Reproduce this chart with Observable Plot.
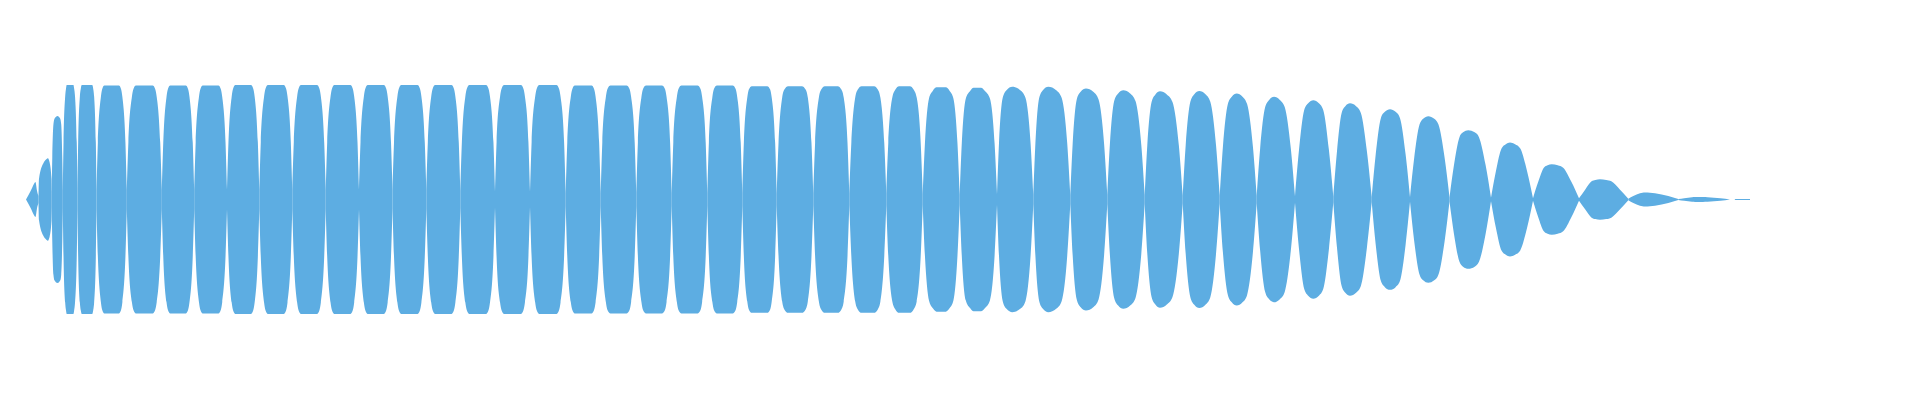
<!DOCTYPE html>
<html>
<head>
<meta charset="utf-8">
<script src="https://cdn.jsdelivr.net/npm/d3@7"></script>
<script src="https://cdn.jsdelivr.net/npm/@observablehq/plot@0.6"></script>
<style>
  html, body { margin: 0; padding: 0; background: #ffffff; }
  #chart svg { display: block; }
</style>
</head>
<body>
<div id="chart"></div>
<script>
// Lobe boundaries (waists) along the time axis
const edges = [26, 38.5, 51.7, 62.8, 77.5, 96.5, 126.8, 161.8, 194.2, 227, 259.3, 292.3, 325.7, 359, 392.5, 426.3, 460.3, 495, 530, 565.7, 600.7, 636.3, 671.7, 707.3, 742.3, 776.7, 813.3, 849.3, 886.3, 922.7, 959.7, 997, 1033.3, 1070.3, 1107.3, 1144.7, 1182.7, 1219.7, 1256.7, 1295, 1333.3, 1371.7, 1410, 1449.5, 1491, 1533, 1579, 1628.3, 1678.3, 1730, 1739, 1750];
// Envelope amplitude at each waist (fraction of full scale)
const waists = [0, 0.03, 0.07, 0.08, 0.085, 0.085, 0.085, 0.085, 0.085, 0.085, 0.085, 0.085, 0.085, 0.085, 0.08, 0.08, 0.075, 0.07, 0.065, 0.06, 0.058, 0.058, 0.056, 0.055, 0.055, 0.052, 0.05, 0.05, 0.05, 0.048, 0.046, 0.045, 0.042, 0.04, 0.04, 0.038, 0.036, 0.034, 0.032, 0.028, 0.025, 0.022, 0.02, 0.018, 0.015, 0.012, 0.01, 0.006, 0.004, 0, 0.004, 0.004];
// Peak amplitude of each lobe
const peaks = [0.153, 0.36, 0.73, 1.0, 1.0, 0.995, 0.995, 0.995, 0.995, 1.0, 1.0, 1.0, 1.0, 1.0, 1.0, 1.0, 1.0, 1.0, 1.0, 0.995, 0.995, 0.995, 0.995, 0.995, 0.99, 0.99, 0.99, 0.99, 0.99, 0.98, 0.977, 0.984, 0.984, 0.97, 0.955, 0.946, 0.948, 0.926, 0.897, 0.867, 0.84, 0.789, 0.728, 0.605, 0.498, 0.308, 0.176, 0.061, 0.022, 0, 0.005];
// Position of each lobe's peak
const peakPos = [35.5, 48, 57.5, 70, 87, 111.6, 144.3, 178, 210.6, 243.2, 275.8, 309, 342.4, 375.8, 409.4, 443.3, 477.7, 512.5, 547.9, 583.2, 618.5, 654, 689.5, 724.8, 759.5, 795, 831.3, 867.8, 904.5, 941.2, 977, 1012.3, 1048.3, 1086, 1123.3, 1160, 1199.3, 1236.7, 1274, 1313.3, 1350, 1390, 1428.3, 1468.3, 1510, 1551.7, 1600, 1645, 1698, 1734.5, 1744.5];
// Fraction of the way from edge to peak where each lobe reaches 50% of its peak
const rise50 = [0.5, 0.05, 0.1, 0.1, 0.07,
  0.09, 0.09, 0.09, 0.09, 0.09, 0.09, 0.09, 0.09, 0.09, 0.09,
  0.09, 0.09, 0.09, 0.09, 0.09, 0.09, 0.09, 0.09, 0.09, 0.09,
  0.1, 0.1, 0.11, 0.11, 0.12, 0.12,
  0.13, 0.14, 0.15, 0.16, 0.17, 0.18, 0.19,
  0.2, 0.22, 0.22, 0.22, 0.23, 0.24,
  0.26, 0.28, 0.3,
  0.3, 0.3, 0.3, 0.3];
// ... where it reaches 90% of its peak
const rise90 = [0.85, 0.55, 0.3, 0.33, 0.25,
  0.29, 0.29, 0.29, 0.29, 0.29, 0.29, 0.29, 0.29, 0.29, 0.29,
  0.29, 0.29, 0.29, 0.29, 0.29, 0.29, 0.29, 0.29, 0.29, 0.29,
  0.3, 0.31, 0.32, 0.33, 0.34, 0.35,
  0.37, 0.39, 0.41, 0.43, 0.45, 0.46, 0.48,
  0.49, 0.5, 0.5, 0.5, 0.52, 0.53,
  0.56, 0.58, 0.6,
  0.7, 0.7, 0.6, 0.6];
// ... where it reaches 97% of its peak
const rise97 = [0.93, 0.8, 0.5, 0.45, 0.35,
  0.38, 0.38, 0.38, 0.38, 0.38, 0.38, 0.38, 0.38, 0.38, 0.38,
  0.38, 0.38, 0.38, 0.38, 0.38, 0.38, 0.38, 0.38, 0.38, 0.38,
  0.42, 0.44, 0.46, 0.5, 0.55, 0.6,
  0.62, 0.64, 0.66, 0.68, 0.7, 0.7, 0.71,
  0.72, 0.72, 0.72, 0.72, 0.72, 0.72,
  0.78, 0.78, 0.78,
  0.85, 0.85, 0.8, 0.8];
// ... where the flat (clipped) top begins; 0 = rounded top
const plateau = [0, 0, 0, 0.54, 0.45,
  0.52, 0.52, 0.52, 0.52, 0.52, 0.52, 0.52, 0.52, 0.52, 0.52,
  0.52, 0.52, 0.52, 0.52, 0.52, 0.55, 0.55, 0.55, 0.55, 0.55,
  0.62, 0.64, 0.66, 0.7, 0.75, 0.8,
  0, 0, 0, 0, 0, 0, 0,
  0, 0, 0, 0, 0, 0,
  0, 0, 0,
  0, 0, 0, 0];

const rows = [];
for (let i = 0; i < peaks.length; i++) {
  const x0 = edges[i], x1 = edges[i + 1], xp = peakPos[i], a = peaks[i];
  const wl = waists[i], wr = waists[i + 1];
  const levels = [[rise50[i], 0.5], [rise90[i], 0.9], [rise97[i], 0.97]];
  const pts = [[x0, wl]];
  for (const [f, k] of levels) pts.push([x0 + f * (xp - x0), Math.max(k * a, wl)]);
  if (plateau[i]) pts.push([x0 + plateau[i] * (xp - x0), a]);
  pts.push([xp, a]);
  if (plateau[i]) pts.push([x1 - plateau[i] * (x1 - xp), a]);
  for (const [f, k] of levels.slice().reverse()) pts.push([x1 - f * (x1 - xp), Math.max(k * a, wr)]);
  pts.push([x1, wr]);
  for (const [x, v] of pts) rows.push({lobe: i, t: x, amp: v});
}

const chart = Plot.plot({
  width: 1920,
  height: 400,
  marginLeft: 0,
  marginRight: 0,
  marginTop: 85,
  marginBottom: 86,
  x: {domain: [0, 1920], axis: null},
  y: {domain: [-1, 1], axis: null},
  marks: [
    Plot.areaY(rows, {
      x: "t",
      y1: d => -d.amp,
      y2: "amp",
      z: "lobe",
      fill: "#5DADE2",
      curve: "monotone-x"
    })
  ]
});
document.getElementById("chart").appendChild(chart);
</script>
</body>
</html>
